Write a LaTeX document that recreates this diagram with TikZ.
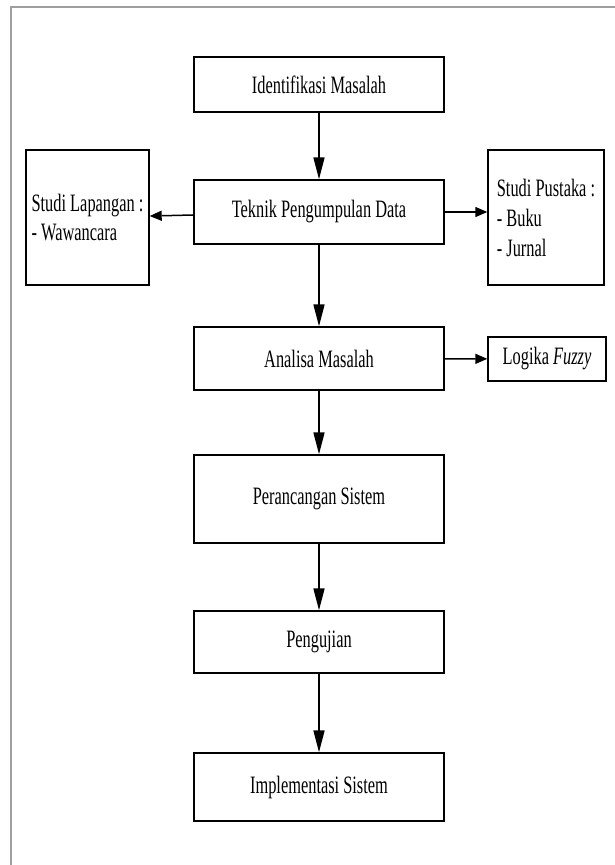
\documentclass[tikz,border=0pt]{standalone}
\usepackage{fontspec}
\setmainfont[FakeStretch=0.655]{Liberation Serif}
\usetikzlibrary{arrows.meta}
\begin{document}
\begin{tikzpicture}[x=1pt,y=-1pt,
  box/.style={draw, line width=1.4pt, inner sep=0pt, font=\fontsize{25}{29}\selectfont},
  sidebox/.style={box, align=left},
  vflow/.style={-{Triangle[length=22pt,width=11pt]}, line width=1.7pt},
  hflow/.style={-{Triangle[length=12pt,width=10pt]}, line width=1.5pt}]
\useasboundingbox (0,0) rectangle (615,865);
\begin{scope}
\clip (0,0) rectangle (615,865);
\draw[gray!75, line width=1.5pt] (11,7) rectangle (640,890);
\end{scope}
% main column
\node[box, minimum width=250pt, minimum height=55pt] (ident) at (319,84.5) {Identifikasi Masalah};
\node[box, minimum width=250pt, minimum height=64pt] (teknik) at (319,212) {Teknik Pengumpulan Data};
\node[box, minimum width=250pt, minimum height=63pt] (analisa) at (319,358.5) {Analisa Masalah};
\node[box, minimum width=250pt, minimum height=88pt] (peranc) at (319,499) {Perancangan Sistem};
\node[box, minimum width=250pt, minimum height=62pt] (penguj) at (319,642) {Pengujian};
\node[box, minimum width=250pt, minimum height=68pt] (impl) at (319,787) {Implementasi Sistem};
% side boxes
\node[sidebox, minimum width=123pt, minimum height=135pt] (lap) at (87.5,217.5) {\rule{0pt}{12pt}Studi Lapangan :\\- Wawancara};
\node[sidebox, minimum width=116pt, minimum height=135pt] (pus) at (546,217.5) {Studi Pustaka :\\[1pt]- Buku\\[1pt]- Jurnal};
\node[box, minimum width=118pt, minimum height=44pt] (logika) at (547,359) {Logika \textit{Fuzzy}};
% connectors
\draw[vflow] (ident) -- (teknik);
\draw[vflow] (teknik) -- (analisa);
\draw[vflow] (analisa) -- (peranc);
\draw[vflow] (peranc) -- (penguj);
\draw[vflow] (penguj) -- (impl);
\draw[hflow] (teknik) -- (lap);
\draw[hflow] (teknik.east) -- (pus.west |- teknik.east);
\draw[hflow] (analisa) -- (logika);
\end{tikzpicture}
\end{document}
